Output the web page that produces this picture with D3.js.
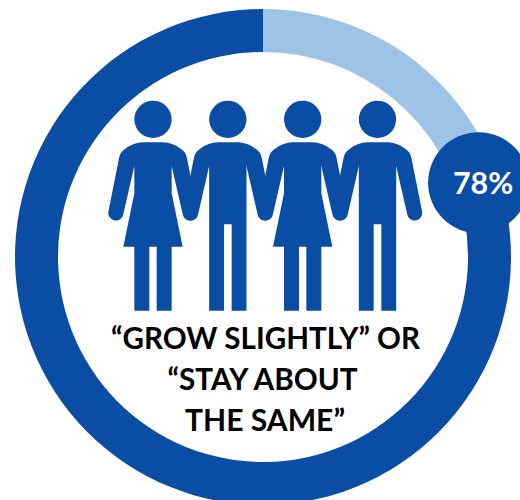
<!DOCTYPE html>
<html>
<head>
<meta charset="utf-8">
<script src="https://cdn.jsdelivr.net/npm/d3@7/dist/d3.min.js"></script>
<style>
html,body{margin:0;padding:0;background:#fff;overflow:hidden}
svg{display:block}
text{font-family:Lato,"Open Sans",sans-serif;font-weight:700}
</style>
</head>
<body>
<div id="chart"></div>
<script>
const segments = ["Other", "Grow slightly or stay about the same"];
const shares = [22, 78];
const segmentColors = ["#9DC3E6", "#0A4DA4"];
const badgeLabel = "78%";
const people = ["woman", "man", "woman", "man"];
const captionLines = ["“GROW SLIGHTLY” OR", "“STAY ABOUT", "THE SAME”"];

const W = 520, H = 500, dark = "#0A4DA4";
const cx = 263, cy = 257, outerR = 248, innerR = 205;

const svg = d3.select("#chart").append("svg").attr("width", W).attr("height", H);

// ring
const pie = d3.pie().sort(null).value(d => d);
const arc = d3.arc().innerRadius(innerR).outerRadius(outerR);
svg.append("g").attr("transform", `translate(${cx},${cy})`)
  .selectAll("path").data(pie(shares)).join("path")
  .attr("d", arc)
  .attr("fill", (d, i) => segmentColors[i]);

// badge
const badgeAngle = 71 * Math.PI / 180, badgeDist = 228, badgeR = 50.5;
const bx = cx + badgeDist * Math.sin(badgeAngle), by = cy - badgeDist * Math.cos(badgeAngle);
svg.append("circle").attr("cx", bx).attr("cy", by).attr("r", badgeR).attr("fill", dark);
svg.append("text").attr("x", bx + 4.5).attr("y", 194).attr("text-anchor", "middle")
  .attr("font-size", 30.5).attr("fill", "#fff").text(badgeLabel);

// people icons: shapes in a local unit space centred on each figure
function arms() {
  return "M-56,228 L-89,372 A22,22 0 0 1 -134,366 L-102,205 Q-99,186 -84,177 Q-58,157 -30,157 L30,157 Q58,157 84,177 Q99,186 102,205 L134,366 A22,22 0 0 1 89,372 L56,228 Z";
}
const bodies = {
  woman: "M-56,220 L56,220 L56,310 L89,470 L56,470 L56,662 L11,662 L11,470 L-11,470 L-11,662 L-56,662 L-56,470 L-89,470 L-56,310 Z",
  man: "M-56,220 L56,220 L56,662 L11.5,662 L11.5,403 L-11.5,403 L-11.5,662 L-56,662 Z"
};
const x = d3.scalePoint().domain(d3.range(people.length)).range([153, 377.5]);
const figs = svg.append("g").selectAll("g").data(people).join("g")
  .attr("transform", (d, i) => `translate(${x(i)},90) scale(${1/3})`)
  .attr("fill", dark);
figs.append("circle").attr("cx", 0).attr("cy", 88).attr("r", 56);
figs.append("path").attr("d", arms());
figs.append("path").attr("d", d => bodies[d]);

// caption
const baselines = [349, 390, 431], centers = [265.5, 262.5, 265], widths = [309, 190, 160];
svg.append("g").selectAll("text").data(captionLines).join("text")
  .attr("x", (d, i) => centers[i]).attr("y", (d, i) => baselines[i])
  .attr("text-anchor", "middle").attr("font-size", 30.5).attr("fill", "#000")
  .attr("textLength", (d, i) => widths[i]).attr("lengthAdjust", "spacingAndGlyphs")
  .text(d => d);
</script>
</body>
</html>
